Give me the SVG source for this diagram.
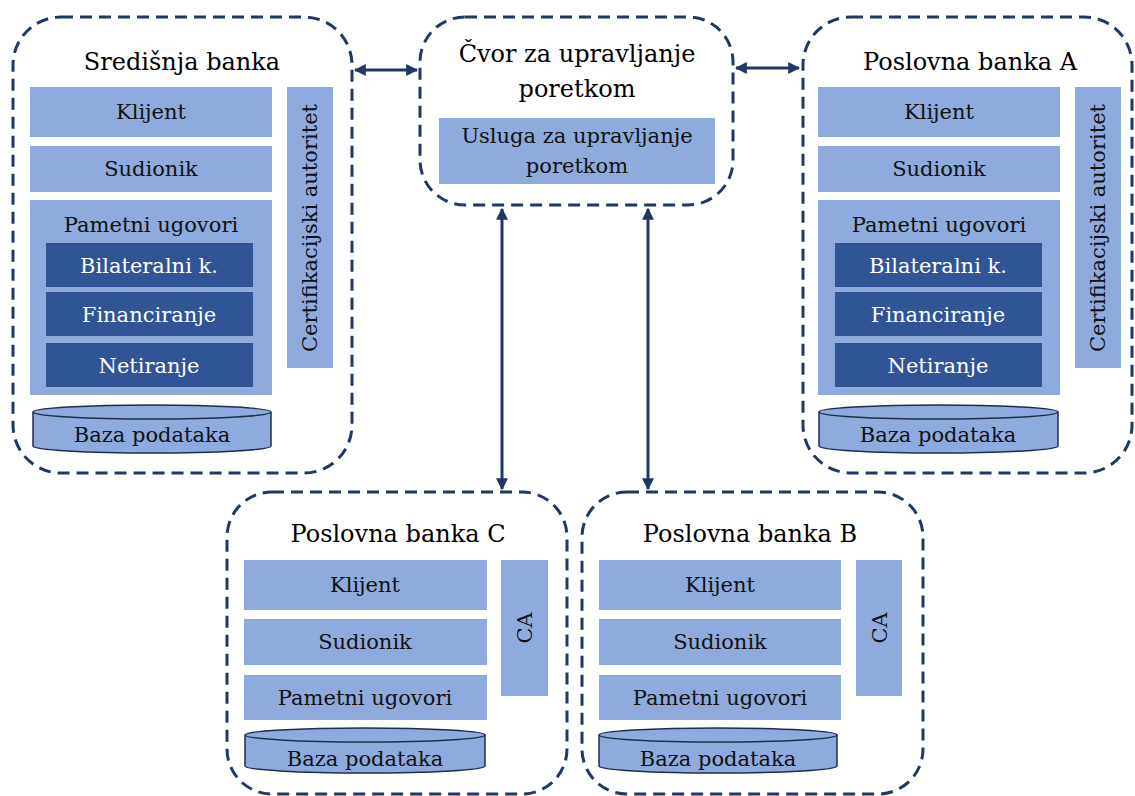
<svg xmlns="http://www.w3.org/2000/svg" width="1135" height="796" viewBox="0 0 1135 796">
<style>
.frame{fill:#fff;stroke:#203864;stroke-width:3;stroke-dasharray:12 7}
.lb{fill:#8faadc}
.db{fill:#2f5597}
.cyl{fill:#8faadc;stroke:#1f2d4a;stroke-width:1.5}
text{font-family:"DejaVu Serif","Liberation Serif",serif;text-anchor:middle}
.t{font-size:24px;fill:#000}
.l{font-size:21px;fill:#111}
.w{font-size:21px;fill:#fff}
.conn{stroke:#203864;stroke-width:3;fill:none}
</style>
<defs>
<marker id="ah" viewBox="0 0 10 10" refX="9" refY="5" markerWidth="4" markerHeight="4" orient="auto-start-reverse">
<path d="M0,0 L10,5 L0,10 z" fill="#203864"/>
</marker>
</defs>
<rect width="1135" height="796" fill="#fff"/>

<g id="connectors">
<line class="conn" x1="355" y1="70" x2="417" y2="70" marker-start="url(#ah)" marker-end="url(#ah)"/>
<line class="conn" x1="736" y1="68" x2="799" y2="68" marker-start="url(#ah)" marker-end="url(#ah)"/>
<line class="conn" x1="502" y1="209" x2="502" y2="489" marker-start="url(#ah)" marker-end="url(#ah)"/>
<line class="conn" x1="648" y1="209" x2="648" y2="489" marker-start="url(#ah)" marker-end="url(#ah)"/>
</g>

<g id="sredisnja-banka">
<rect class="frame" x="13" y="17" width="339" height="456" rx="48"/>
<text class="t" x="182" y="70">Središnja banka</text>
<rect class="lb" x="30" y="87" width="242" height="50"/>
<text class="l" x="151" y="119">Klijent</text>
<rect class="lb" x="30" y="146" width="242" height="46"/>
<text class="l" x="151" y="176">Sudionik</text>
<rect class="lb" x="30" y="200" width="242" height="195"/>
<text class="l" x="151" y="232">Pametni ugovori</text>
<rect class="db" x="46" y="243" width="207" height="44"/>
<text class="w" x="149" y="273">Bilateralni k.</text>
<rect class="db" x="46" y="292" width="207" height="44"/>
<text class="w" x="149" y="322">Financiranje</text>
<rect class="db" x="46" y="343" width="207" height="44"/>
<text class="w" x="149" y="373">Netiranje</text>
<rect class="lb" x="287" y="87" width="46" height="281"/>
<text class="l" transform="translate(317,228) rotate(-90)">Certifikacijski autoritet</text>
<path class="cyl" d="M33,412 L33,446 A119,7 0 0 0 271,446 L271,412"/>
<ellipse class="cyl" cx="152" cy="412" rx="119" ry="7"/>
<text class="l" x="152" y="442">Baza podataka</text>
</g>

<g id="cvor">
<rect class="frame" x="420" y="17" width="313" height="188" rx="45"/>
<text class="t" x="577" y="62">Čvor za upravljanje</text>
<text class="t" x="577" y="97">poretkom</text>
<rect class="lb" x="439" y="118" width="276" height="66"/>
<text class="l" x="577" y="143">Usluga za upravljanje</text>
<text class="l" x="577" y="173">poretkom</text>
</g>

<g id="poslovna-banka-a">
<rect class="frame" x="803" y="17" width="329" height="456" rx="48"/>
<text class="t" x="970" y="70">Poslovna banka A</text>
<rect class="lb" x="818" y="87" width="242" height="50"/>
<text class="l" x="939" y="119">Klijent</text>
<rect class="lb" x="818" y="146" width="242" height="46"/>
<text class="l" x="939" y="176">Sudionik</text>
<rect class="lb" x="818" y="200" width="242" height="195"/>
<text class="l" x="939" y="232">Pametni ugovori</text>
<rect class="db" x="835" y="243" width="207" height="44"/>
<text class="w" x="938" y="273">Bilateralni k.</text>
<rect class="db" x="835" y="292" width="207" height="44"/>
<text class="w" x="938" y="322">Financiranje</text>
<rect class="db" x="835" y="343" width="207" height="44"/>
<text class="w" x="938" y="373">Netiranje</text>
<rect class="lb" x="1075" y="87" width="46" height="281"/>
<text class="l" transform="translate(1105,228) rotate(-90)">Certifikacijski autoritet</text>
<path class="cyl" d="M819,412 L819,446 A119.5,7 0 0 0 1058,446 L1058,412"/>
<ellipse class="cyl" cx="938.5" cy="412" rx="119.5" ry="7"/>
<text class="l" x="938" y="442">Baza podataka</text>
</g>

<g id="poslovna-banka-c">
<rect class="frame" x="227" y="492" width="340" height="302" rx="45"/>
<text class="t" x="398" y="542">Poslovna banka C</text>
<rect class="lb" x="244" y="560" width="243" height="50"/>
<text class="l" x="365" y="592">Klijent</text>
<rect class="lb" x="244" y="619" width="243" height="46"/>
<text class="l" x="365" y="649">Sudionik</text>
<rect class="lb" x="244" y="675" width="243" height="45"/>
<text class="l" x="365" y="705">Pametni ugovori</text>
<rect class="lb" x="501" y="560" width="47" height="136"/>
<text class="l" transform="translate(532,628) rotate(-90)">CA</text>
<path class="cyl" d="M245,735 L245,766 A120,7 0 0 0 485,766 L485,735"/>
<ellipse class="cyl" cx="365" cy="735" rx="120" ry="7"/>
<text class="l" x="365" y="766">Baza podataka</text>
</g>

<g id="poslovna-banka-b">
<rect class="frame" x="582" y="492" width="341" height="302" rx="45"/>
<text class="t" x="750" y="542">Poslovna banka B</text>
<rect class="lb" x="599" y="560" width="242" height="50"/>
<text class="l" x="720" y="592">Klijent</text>
<rect class="lb" x="599" y="619" width="242" height="46"/>
<text class="l" x="720" y="649">Sudionik</text>
<rect class="lb" x="599" y="675" width="242" height="45"/>
<text class="l" x="720" y="705">Pametni ugovori</text>
<rect class="lb" x="856" y="560" width="46" height="136"/>
<text class="l" transform="translate(887,628) rotate(-90)">CA</text>
<path class="cyl" d="M599,735 L599,766 A119,7 0 0 0 837,766 L837,735"/>
<ellipse class="cyl" cx="718" cy="735" rx="119" ry="7"/>
<text class="l" x="718" y="766">Baza podataka</text>
</g>
</svg>
